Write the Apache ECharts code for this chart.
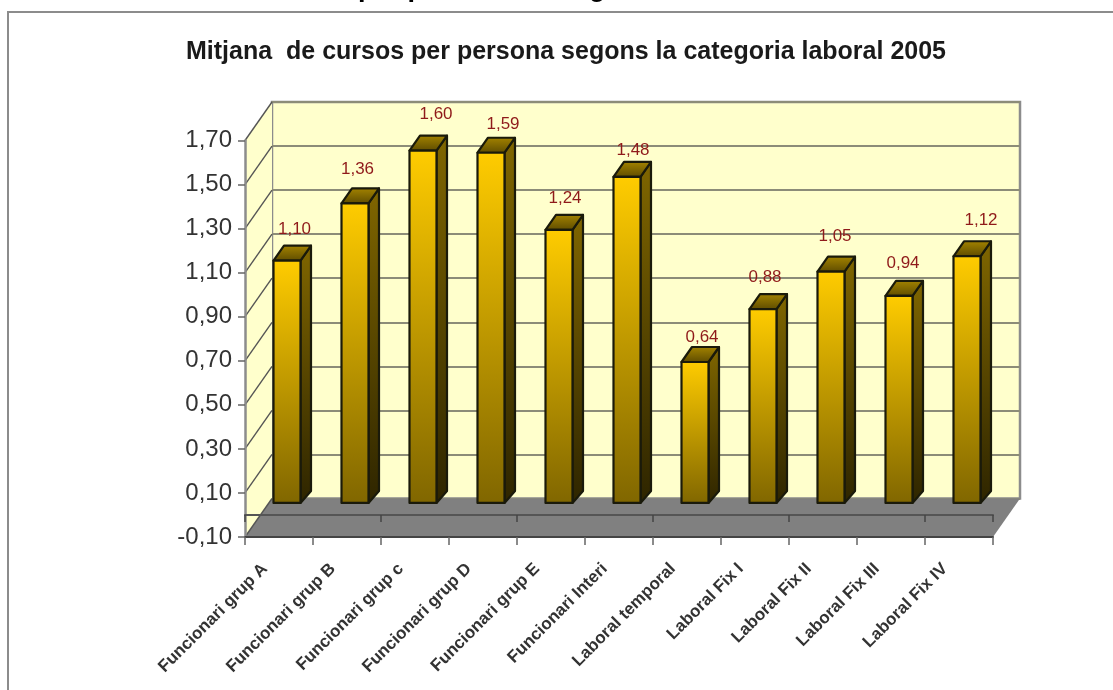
<!DOCTYPE html>
<html>
<head>
<meta charset="utf-8">
<title>Mitjana de cursos</title>
<script src="https://cdn.jsdelivr.net/npm/echarts@6/dist/echarts.min.js"></script>
<style>
html, body { margin: 0; padding: 0; background: #fff; }
#main { width: 1113px; height: 690px; }
</style>
</head>
<body>
<div id="main"></div>
<script>
const categories = ["Funcionari grup A", "Funcionari grup B", "Funcionari grup c", "Funcionari grup D", "Funcionari grup E", "Funcionari Interi", "Laboral temporal", "Laboral Fix I", "Laboral Fix II", "Laboral Fix III", "Laboral Fix IV"];
const courses = [1.10, 1.36, 1.60, 1.59, 1.24, 1.48, 0.64, 0.88, 1.05, 0.94, 1.12];
const yTicks = [-0.10, 0.10, 0.30, 0.50, 0.70, 0.90, 1.10, 1.30, 1.50, 1.70];
const titleText = "Mitjana  de cursos per persona segons la categoria laboral 2005";

// 3d look: how far the back wall sits from the front plane
const wallX = 27, wallY = 38.5;
// bars stand inside the floor, with their own small depth
const barX = 8, barY = 12, barW = 27, barDX = 10.5, barDY = 15, barFoot = 12;
// the data labels were hand placed in the original, [dx, lift] from the bar top
const labelNudge = [[7.5, 16], [2.5, 19], [13, 21], [12, 13], [6, 17], [6, 12], [7, 10], [2, 17], [4, 20], [4, 18], [14, 21]];

const fontName = '"Liberation Sans", Arial, sans-serif';
const fmt = (v) => v.toFixed(2).replace(".", ",");
const yMin = yTicks[0], yMax = yTicks[yTicks.length - 1];

const chart = echarts.init(document.getElementById("main"));

function grad(a, b) {
  return new echarts.graphic.LinearGradient(0, 0, 0, 1, [
    { offset: 0, color: a },
    { offset: 1, color: b },
  ]);
}

function renderWalls(params, api) {
  const first = api.coord([0, yMin]);
  const last = api.coord([0, yMax]);
  const left = first[0] - api.size([1, 0])[0] / 2;
  const right = left + api.size([1, 0])[0] * categories.length;
  return {
    type: "group",
    children: [
      {
        type: "polygon",
        shape: { points: [[left, first[1]], [left + wallX, first[1] - wallY], [left + wallX, last[1] - wallY], [left, last[1]]] },
        style: { fill: "#ffffcc" },
      },
      {
        type: "polygon",
        shape: { points: [[left, first[1]], [right, first[1]], [right + wallX, first[1] - wallY], [left + wallX, first[1] - wallY]] },
        style: { fill: "#808080" },
      },
    ],
  };
}

function renderWallLine(params, api) {
  const p = api.coord([0, api.value(1)]);
  const left = p[0] - api.size([1, 0])[0] / 2;
  return {
    type: "line",
    shape: { x1: left, y1: p[1], x2: left + wallX, y2: p[1] - wallY },
    style: { stroke: "#555", lineWidth: 1.4 },
  };
}

function renderBar(params, api) {
  const i = api.value(0);
  const v = api.value(1);
  const base = api.coord([i, 0]);
  const top = api.coord([i, v]);
  const x0 = base[0] + barX - barW / 2;
  const x1 = x0 + barW;
  const yb = base[1] - barY;
  const yt = top[1] - barY;
  const edge = { stroke: "#1a1a0a", lineWidth: 2.2, lineJoin: "round" };
  const nudge = labelNudge[i];
  return {
    type: "group",
    children: [
      {
        type: "polygon",
        shape: { points: [[x1, yb], [x1 + barDX, yb - barFoot], [x1 + barDX, yt - barDY], [x1, yt]] },
        style: Object.assign({ fill: grad("#806600", "#2e2500") }, edge),
      },
      {
        type: "polygon",
        shape: { points: [[x0, yt], [x0 + barDX, yt - barDY], [x1 + barDX, yt - barDY], [x1, yt]] },
        style: Object.assign({ fill: grad("#a68500", "#5c4a00") }, edge),
      },
      {
        type: "rect",
        shape: { x: x0, y: yt, width: barW, height: yb - yt },
        style: Object.assign({ fill: grad("#ffcc00", "#806600") }, edge),
      },
      {
        type: "text",
        style: {
          x: base[0] + barX + nudge[0],
          y: yt - barDY - nudge[1],
          text: fmt(v),
          fill: "#8f1a1a",
          font: "17px " + fontName,
          align: "center",
          verticalAlign: "middle",
        },
      },
    ],
  };
}

const option = {
  animation: false,
  backgroundColor: "#fff",
  title: {
    text: titleText,
    left: 181,
    top: 35,
    textStyle: { fontFamily: fontName, fontSize: 25, fontWeight: "bold", color: "#1a1a1a" },
  },
  graphic: [
    // page frame round the picture, runs off the window to the right and bottom
    { type: "polyline", z: 0, shape: { points: [[8, 690], [8, 12], [1113, 12]] }, style: { stroke: "#8c8c8c", fill: null, lineWidth: 2 } },
    // heading of the page, cut by the top of the window
    { type: "text", x: 358, y: -25, style: { text: "per persona i categoria", fill: "#000", font: "bold 27px " + fontName } },
  ],
  grid: [
    { left: 245, top: 140.5, width: 748, height: 396.5 },
    { left: 272, top: 102, width: 748, height: 396.5, show: true, backgroundColor: "#ffffcc", borderColor: "#8c8c8c", borderWidth: 2.5 },
  ],
  xAxis: [
    {
      gridIndex: 0,
      type: "category",
      data: categories,
      position: "bottom",
      z: 5,
      axisLine: { onZero: false, lineStyle: { color: "#444", width: 2 } },
      axisTick: { show: true, length: 8, lineStyle: { color: "#666", width: 1.5 } },
      axisLabel: {
        interval: 0,
        rotate: 45,
        margin: 15,
        padding: [0, 20, 0, 0],
        fontFamily: fontName,
        fontSize: 17,
        fontWeight: "bold",
        color: "#333",
      },
    },
    {
      gridIndex: 0,
      type: "category",
      data: categories,
      position: "bottom",
      z: 5,
      axisLine: { onZero: true, lineStyle: { color: "#555", width: 2 } },
      axisTick: { show: true, length: 7, lineStyle: { color: "#444", width: 1.5 } },
      axisLabel: { show: false },
    },
    { gridIndex: 1, type: "category", data: categories, axisLine: { show: false }, axisTick: { show: false }, axisLabel: { show: false } },
  ],
  yAxis: [
    {
      gridIndex: 0,
      type: "value",
      min: yMin,
      max: yMax,
      z: 5,
      axisLine: { show: true, onZero: false, lineStyle: { color: "#8c8c8c", width: 2.5 } },
      axisTick: { show: true, length: 7, customValues: yTicks, lineStyle: { color: "#666", width: 1.5 } },
      axisLabel: { customValues: yTicks, margin: 13, padding: [3, 0, 0, 0], fontFamily: fontName, fontSize: 24, color: "#333", formatter: fmt },
      splitLine: { show: false },
    },
    {
      gridIndex: 1,
      type: "value",
      min: yMin,
      max: yMax,
      axisLine: { show: false },
      axisTick: { show: false, customValues: yTicks },
      axisLabel: { show: false, customValues: yTicks },
      splitLine: { show: true, lineStyle: { color: "#8c8c78", width: 2.2 } },
    },
  ],
  series: [
    { name: "parets", type: "custom", xAxisIndex: 0, yAxisIndex: 0, z: 1, clip: false, silent: true, renderItem: renderWalls, data: [[0, yMin]] },
    { name: "linies", type: "custom", xAxisIndex: 0, yAxisIndex: 0, z: 2, clip: false, silent: true, renderItem: renderWallLine, data: yTicks.map((t) => [0, t]) },
    { name: "Mitjana de cursos", type: "custom", xAxisIndex: 0, yAxisIndex: 0, z: 6, clip: false, renderItem: renderBar, data: courses.map((v, i) => [i, v]) },
  ],
};

chart.setOption(option);
</script>
</body>
</html>
